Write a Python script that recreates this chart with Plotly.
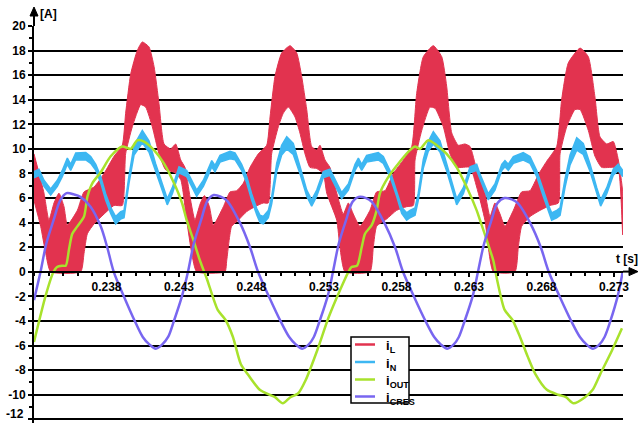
import numpy as np
import plotly.graph_objects as go

# ---------------- data (time in ms, current in A) ----------------
iL_upper_t = [233.0, 233.69, 234.03, 234.38, 234.72, 235.07, 235.3, 235.99, 236.45, 237.14, 237.83, 238.52,
              239.09, 239.32, 239.67, 240.12, 240.47, 240.93, 241.28, 241.62, 241.97, 242.43, 242.77, 243.12,
              243.41, 243.76, 244.1, 244.45, 244.75, 245.1, 245.37, 246.06, 246.52, 246.98, 247.43, 247.9, 248.47,
              249.05, 249.28, 249.62, 250.08, 250.66, 251.12, 251.46, 251.81, 252.15, 252.5, 252.72, 253.07,
              253.41, 253.88, 254.33, 254.68, 255.02, 255.48, 256.17, 256.63, 257.21, 257.78, 258.47,
              259.05, 259.39, 259.85, 260.54, 261.12, 261.46, 261.81, 262.26, 262.72, 263.07, 263.53,
              264.1, 264.45, 264.79, 265.14, 265.48, 266.06, 266.63, 267.21, 267.78, 268.36,
              269.05, 269.39, 269.85, 270.66, 271.23, 271.69, 272.03, 272.5, 272.95, 273.3, 273.6]
iL_upper = [9.6, 6.4, 4.2, 5.6, 6.4, 5.3, 3.8, 5.0, 6.5, 6.9, 8.0, 9.4,
            10.3, 12.9, 16.1, 18.0, 18.7, 18.3, 16.7, 13.7, 10.4, 10.0, 10.4, 9.1,
            8.5, 6.1, 4.2, 5.5, 6.2, 5.3, 3.8, 5.3, 6.5, 6.6, 7.2, 8.5, 9.6,
            10.3, 12.6, 15.9, 17.8, 18.4, 17.8, 15.9, 13.2, 10.2, 9.9, 10.3, 9.1,
            8.5, 6.4, 4.7, 5.6, 4.7, 3.7, 5.0, 6.5, 6.6, 8.0, 9.1,
            10.2, 14.5, 17.5, 18.4, 17.5, 15.1, 11.3, 10.3, 10.4, 10.2, 8.3,
            6.4, 4.5, 5.6, 4.7, 3.7, 5.0, 6.5, 6.6, 7.9, 9.0,
            10.2, 14.0, 17.0, 18.2, 17.5, 14.2, 11.0, 10.4, 10.6, 9.1, 6.5]

iL_lower_t = [233.0, 233.46, 233.81, 234.15, 236.22, 236.45, 236.68, 237.14, 237.83, 238.52, 239.09,
              239.32, 239.78, 240.36, 240.7, 241.16, 241.62, 242.08, 242.66, 243.12,
              243.53, 243.88, 244.22, 246.17, 246.29, 246.63, 247.09, 247.67, 248.24, 248.81, 249.16,
              249.39, 249.85, 250.19, 250.54, 251.0, 251.34, 251.69, 252.03, 252.5, 252.95, 253.19,
              253.88, 254.1, 254.45, 256.17, 256.4, 256.63, 257.32, 258.01, 258.7, 259.16,
              259.28, 259.74, 260.31, 260.66, 261.23, 261.69, 262.15, 263.07, 263.53,
              264.1, 264.33, 264.68, 266.17, 266.4, 266.63, 267.21, 267.9, 268.59, 269.16,
              269.28, 269.74, 270.31, 270.66, 271.23, 271.69, 272.15, 272.95, 273.3, 273.6]
iL_lower = [5.8, 3.7, 1.5, 0.0, 0.0, 1.5, 3.1, 3.9, 4.7, 5.4, 5.4,
            9.6, 11.8, 13.6, 13.4, 11.8, 9.6, 8.3, 8.1, 7.5,
            4.2, 1.5, 0.0, 0.0, 0.9, 3.7, 4.2, 4.9, 5.3, 5.6, 5.6,
            9.6, 11.8, 12.9, 13.4, 12.6, 11.3, 9.6, 8.5, 8.4, 8.0, 6.4,
            4.2, 2.0, 0.0, 0.0, 2.0, 3.7, 4.3, 5.0, 5.3, 5.4,
            9.1, 11.5, 13.4, 13.3, 11.8, 9.6, 8.5, 8.5, 6.9,
            4.2, 2.0, 0.0, 0.0, 2.0, 3.7, 4.5, 5.0, 5.4, 5.6,
            9.6, 11.8, 13.2, 13.2, 11.5, 9.4, 8.5, 8.5, 8.3, 3.0]

iN_t = [233.0, 233.34, 233.69, 234.15, 234.61, 234.95, 235.3, 235.53, 235.88, 236.57, 236.91, 237.26, 237.6,
        237.94, 238.29, 238.63, 238.98, 239.21, 239.55, 239.9, 240.47, 240.93, 241.39, 241.85, 242.19, 242.54, 243.0,
        243.53, 244.22, 244.68, 245.02, 245.26, 245.48, 245.83, 246.52, 246.86, 247.32, 247.67, 248.01, 248.36,
        248.59, 248.81, 249.16, 249.39, 249.74, 250.08, 250.43, 250.88, 251.34, 251.81, 252.15, 252.5, 252.95, 253.41,
        254.22, 254.68, 255.14, 255.37, 255.6, 255.94, 256.74, 257.09, 257.55, 258.01, 258.36, 258.7, 258.93,
        259.28, 259.5, 259.85, 260.19, 260.54, 261.0, 261.46, 261.92, 262.15, 262.61, 263.07, 263.53,
        263.76, 264.33, 264.79, 265.26, 265.48, 265.71, 266.06, 266.74, 267.21, 267.67, 268.12, 268.47, 268.7,
        269.05, 269.28, 269.62, 269.97, 270.43, 270.88, 271.34, 271.81, 272.08, 272.5, 272.95, 273.29, 273.6]
iN_center = [7.9, 8.1, 7.2, 6.5, 7.2, 8.0, 9.0, 8.5, 9.4, 9.4, 9.1, 8.5, 7.5,
             6.1, 5.0, 4.2, 4.6, 4.7, 7.5, 9.9, 11.0, 10.2, 8.5, 6.9, 5.7, 6.6, 8.3,
             8.0, 6.4, 7.2, 8.1, 8.8, 8.4, 9.2, 9.5, 9.4, 8.5, 7.5, 6.1, 4.9,
             4.3, 4.2, 4.7, 5.8, 8.5, 9.9, 10.5, 10.0, 8.3, 6.4, 5.6, 6.4, 7.9, 8.1,
             6.2, 6.9, 8.5, 9.0, 8.5, 9.2, 9.4, 9.1, 8.0, 6.4, 5.0, 4.5, 4.7,
             4.9, 6.1, 8.8, 10.2, 10.9, 10.2, 8.5, 6.6, 5.7, 6.6, 8.3, 8.5,
             7.7, 6.1, 6.9, 8.5, 8.8, 8.5, 9.1, 9.4, 9.1, 8.0, 6.4, 5.2, 4.5,
             4.7, 4.9, 7.2, 9.1, 10.4, 10.0, 8.5, 6.6, 5.6, 6.6, 8.1, 8.5, 8.0]
iN_ripple = [0.5, 0.5, 0.5, 0.5, 0.5, 0.5, 0.5, 0.5, 0.55, 0.6, 0.55, 0.5, 0.5,
             0.5, 0.5, 0.6, 0.6, 0.6, 0.6, 0.8, 1.0, 0.9, 0.6, 0.5, 0.5, 0.5, 0.5,
             0.5, 0.5, 0.5, 0.5, 0.5, 0.5, 0.55, 0.6, 0.55, 0.5, 0.5, 0.5, 0.5,
             0.6, 0.6, 0.6, 0.6, 0.7, 0.8, 1.0, 0.9, 0.6, 0.5, 0.5, 0.5, 0.5, 0.5,
             0.5, 0.5, 0.5, 0.5, 0.5, 0.55, 0.6, 0.55, 0.5, 0.5, 0.5, 0.6, 0.6,
             0.6, 0.6, 0.7, 0.8, 1.0, 0.9, 0.6, 0.5, 0.5, 0.5, 0.5, 0.5,
             0.5, 0.5, 0.5, 0.5, 0.5, 0.5, 0.55, 0.6, 0.55, 0.5, 0.5, 0.5, 0.6,
             0.6, 0.6, 0.7, 0.8, 1.0, 0.9, 0.6, 0.5, 0.5, 0.5, 0.5, 0.5, 0.5]

iOUT_t = [233.0, 233.79, 234.31, 234.59, 234.93, 235.19, 235.41, 235.64, 235.99, 236.45, 236.68, 237.02, 237.6,
          238.29, 239.09, 239.67, 240.12, 240.59, 241.28, 241.97, 242.66, 243.21, 243.53, 243.99, 244.45, 244.93,
          245.67, 246.2, 246.72, 247.26, 247.78, 248.57, 249.23, 249.62, 250.16, 250.68, 251.21, 251.74, 252.53,
          253.32, 254.1, 254.64, 254.9, 255.28, 255.6, 255.83, 256.29, 256.63, 256.86, 257.43, 258.12, 258.93,
          259.28, 259.62, 260.19, 260.77, 261.46, 262.15, 262.84, 263.53, 263.76, 264.22, 264.68, 264.93,
          265.46, 265.99, 266.52, 267.05, 267.57, 268.37, 269.16, 269.69, 270.21, 271.0, 271.53, 272.06, 272.86, 273.55]
iOUT = [-5.7, -2.0, -0.1, 0.4, 0.5, 0.5, 1.8, 3.1, 3.7, 4.5, 6.1, 7.2, 8.1,
        9.4, 10.2, 10.0, 10.7, 10.6, 9.9, 8.8, 7.2, 5.6, 4.2, 2.6, 0.9, -0.6,
        -3.1, -3.9, -5.3, -7.5, -8.4, -9.6, -10.0, -10.2, -10.7, -10.2, -9.9, -8.8, -6.4,
        -3.7, -1.5, -0.1, 0.4, 0.5, 2.0, 3.1, 3.8, 5.0, 6.4, 7.7, 8.8, 9.9,
        10.2, 10.0, 10.7, 10.3, 9.6, 8.5, 6.9, 5.0, 4.2, 2.6, 0.9, -0.6,
        -3.1, -3.9, -5.3, -6.9, -8.3, -9.6, -10.0, -10.2, -10.7, -10.2, -9.6, -8.3, -6.4, -4.6]

iCRES_t = [233.0, 233.45, 233.85, 234.35, 234.8, 235.25, 235.75, 236.2, 236.9, 237.6, 238.05, 238.5, 239.2,
           239.95, 240.5, 240.95, 241.4, 241.85, 242.25, 242.65, 243.2,
           243.62, 244.02, 244.52, 244.97, 245.4, 245.9, 246.3, 247.2, 247.9, 248.45, 249.2, 250.0, 250.6,
           251.05, 251.5, 251.95, 252.3, 252.7, 253.25,
           253.62, 254.02, 254.52, 254.97, 255.4, 255.9, 256.3, 257.2, 257.9, 258.45, 259.2, 260.0, 260.6,
           261.05, 261.5, 261.95, 262.3, 262.7, 263.25,
           263.62, 264.02, 264.52, 264.97, 265.45, 265.95, 266.35, 267.25, 267.95, 268.5, 269.25, 270.05, 270.65,
           271.1, 271.55, 272.0, 272.35, 272.75, 273.25, 273.6]
iCRES = [-2.3, 0.0, 2.3, 4.2, 5.8, 6.4, 6.3, 6.1, 5.3, 3.7, 2.0, 0.0, -2.0,
         -4.0, -5.3, -5.9, -6.25, -5.9, -5.3, -4.0, -2.0,
         0.0, 2.3, 4.2, 5.8, 6.25, 6.1, 5.8, 4.0, 2.0, 0.0, -2.0, -4.0, -5.3,
         -5.9, -6.25, -5.9, -5.3, -4.0, -2.0,
         0.0, 2.3, 4.2, 5.7, 6.1, 6.0, 5.7, 3.9, 2.0, 0.0, -2.0, -4.0, -5.3,
         -5.9, -6.25, -5.9, -5.3, -4.0, -2.0,
         0.0, 2.2, 4.1, 5.6, 6.0, 5.9, 5.6, 3.9, 2.0, 0.0, -2.0, -4.0, -5.3,
         -5.9, -6.25, -5.9, -5.3, -4.0, -2.0, 0.0]

x_tick_vals = [0.238, 0.243, 0.248, 0.253, 0.258, 0.263, 0.268, 0.273]
x_tick_text = ["0.238", "0.243", "0.248", "0.253", "0.258", "0.263", "0.268", "0.273"]
y_tick_vals = [-12, -10, -8, -6, -4, -2, 0, 2, 4, 6, 8, 10, 12, 14, 16, 18, 20]
y_tick_text = ["-12", "-10", "-8", "-6", "-4", "-2", "0", "2", "4", "6", "8", "10", "12", "14", "16", "18", "20"]

series_names = ["i<sub>L</sub>", "i<sub>N</sub>", "i<sub>OUT</sub>", "i<sub>CRES</sub>"]

# ---------------- styling ----------------
RED = "#E2334F"
BLUE = "#3DB7F2"
GREEN = "#A8E22C"
PURPLE = "#7866F0"
colors = [RED, BLUE, GREEN, PURPLE]
FONT = "Liberation Sans, Arial, sans-serif"


def sec(a):
    return np.array(a, dtype=float) / 1000.0


fig = go.Figure()

# iL band (switching ripple envelope)
xu, xl = sec(iL_upper_t), sec(iL_lower_t)
yu, yl = np.array(iL_upper), np.array(iL_lower)
fig.add_trace(go.Scatter(x=np.concatenate([xu, xl[::-1]]), y=np.concatenate([yu, yl[::-1]]),
                         fill="toself", fillcolor=RED, mode="lines",
                         line=dict(color=RED, width=1, shape="spline", smoothing=0.5),
                         name="iL", showlegend=False, hoverinfo="skip"))

# iN band
xn = sec(iN_t)
cn, rn = np.array(iN_center), np.array(iN_ripple)
fig.add_trace(go.Scatter(x=np.concatenate([xn, xn[::-1]]),
                         y=np.concatenate([cn + rn / 2, (cn - rn / 2)[::-1]]),
                         fill="toself", fillcolor=BLUE, mode="lines",
                         line=dict(color=BLUE, width=1.5), name="iN", showlegend=False, hoverinfo="skip"))

fig.add_trace(go.Scatter(x=sec(iOUT_t), y=iOUT, mode="lines",
                         line=dict(color=GREEN, width=2.5, shape="spline", smoothing=0.7),
                         name="iOUT", showlegend=False))
fig.add_trace(go.Scatter(x=sec(iCRES_t), y=iCRES, mode="lines",
                         line=dict(color=PURPLE, width=2.5, shape="spline", smoothing=0.9),
                         name="iCRES", showlegend=False))

W, H = 642, 423
ml, mr, mt, mb = 34, 19, 26, 0
pw, ph = W - ml - mr, H - mt - mb
Y_LO, Y_HI = -12.3, 20.0


def px_x(x):
    return (x - ml) / pw


def px_y(y):
    return (H - mb - y) / ph


tickfont = dict(family=FONT, size=12, color="black", weight="bold")

# the lowest label sits on the page edge: draw it as a text placed just inside the page
y_axis_text = [""] + y_tick_text[1:]

fig.update_layout(
    width=W, height=H,
    margin=dict(l=ml, r=mr, t=mt, b=mb, autoexpand=False),
    paper_bgcolor="white", plot_bgcolor="white",
    showlegend=False,
    xaxis=dict(range=[0.233, 0.233 + pw / 14500.0], tickmode="array", tickvals=x_tick_vals, ticktext=x_tick_text,
               anchor="free", position=(0 - Y_LO) / (Y_HI - Y_LO), showline=True, linecolor="black", linewidth=2,
               ticks="outside", ticklen=4, tickwidth=1.5, tickcolor="black",
               minor=dict(tickmode="linear", tick0=0.233, dtick=0.001, ticks="outside", ticklen=3,
                          tickwidth=1.5, tickcolor="black", showgrid=False),
               showgrid=False, zeroline=False, tickfont=tickfont, automargin=False),
    yaxis=dict(range=[Y_LO, Y_HI], tickmode="array", tickvals=y_tick_vals, ticktext=y_axis_text,
               showline=True, linecolor="black", linewidth=2,
               ticks="outside", ticklen=4, tickwidth=1.5, tickcolor="black",
               minor=dict(tickmode="linear", tick0=-12, dtick=1, ticks="outside", ticklen=3,
                          tickwidth=1.5, tickcolor="black", showgrid=False),
               showgrid=True, gridcolor="black", gridwidth=2, zeroline=False, tickfont=tickfont,
               automargin=False),
)

annotations = [
    dict(x=px_x(26), y=0, xref="paper", yref="paper", text=y_tick_text[0], showarrow=False,
         xanchor="right", yanchor="bottom", font=tickfont),
    dict(x=px_x(38), y=px_y(14), xref="paper", yref="paper", text="[A]", showarrow=False,
         xanchor="left", yanchor="middle", font=dict(family=FONT, size=12, color="black", weight="bold")),
    dict(x=px_x(640), y=px_y(259), xref="paper", yref="paper", text="t [s]", showarrow=False,
         xanchor="right", yanchor="middle", font=dict(family=FONT, size=12, color="black", weight="bold")),
]

y0p = px_y(271.6)
shapes = [
    # x-axis extension + arrow head
    dict(type="line", xref="paper", yref="paper", x0=1, x1=px_x(632), y0=y0p, y1=y0p,
         line=dict(color="black", width=2), layer="above"),
    dict(type="path", xref="paper", yref="paper",
         path=f"M {px_x(638)} {y0p} L {px_x(629)} {px_y(267.6)} L {px_x(629)} {px_y(275.6)} Z",
         fillcolor="black", line=dict(color="black", width=1), layer="above"),
    # y-axis extension + arrow head
    dict(type="line", xref="paper", yref="paper", x0=0, x1=0, y0=1, y1=px_y(14),
         line=dict(color="black", width=2), layer="above"),
    dict(type="path", xref="paper", yref="paper",
         path=f"M {px_x(34)} {px_y(7)} L {px_x(30)} {px_y(16)} L {px_x(38)} {px_y(16)} Z",
         fillcolor="black", line=dict(color="black", width=1), layer="above"),
    # legend box
    dict(type="rect", xref="paper", yref="paper", x0=px_x(351), x1=px_x(409), y0=px_y(403), y1=px_y(337),
         fillcolor="white", line=dict(color="black", width=1.5), layer="above"),
]
legend_rows = [344.5, 362, 379.5, 396.5]
for name, col, ry in zip(series_names, colors, legend_rows):
    shapes.append(dict(type="line", xref="paper", yref="paper", x0=px_x(355), x1=px_x(375),
                       y0=px_y(ry), y1=px_y(ry), line=dict(color=col, width=2.5), layer="above"))
    annotations.append(dict(x=px_x(384), y=px_y(ry + 2), xref="paper", yref="paper", text=name,
                            showarrow=False, xanchor="left", yanchor="middle",
                            font=dict(family=FONT, size=13, color="black", weight="bold")))

fig.update_layout(annotations=annotations, shapes=shapes)
fig.write_html("out.html", config={"displayModeBar": False},
               post_script="document.body.style.margin='0px';document.body.style.overflow='hidden';")
